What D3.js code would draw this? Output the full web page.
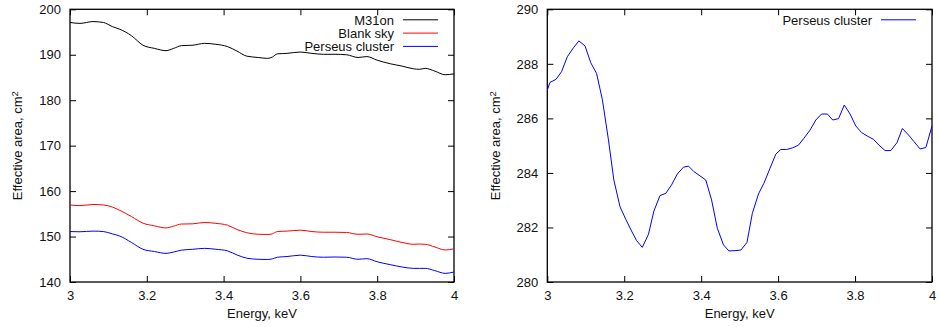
<!DOCTYPE html>
<html>
<head>
<meta charset="utf-8">
<script src="https://cdn.jsdelivr.net/npm/d3@7"></script>
<style>
  html, body { margin: 0; padding: 0; background: #fff; }
  svg { display: block; font-family: "Liberation Sans", Arial, sans-serif; }
  text { fill: #111; font-size: 13px; }
</style>
</head>
<body>
<svg id="chart" width="940" height="327"></svg>
<script>
// Left panel: effective area of three observations, 3-4 keV
const energyLeft = [3.0, 3.026, 3.06, 3.087, 3.11, 3.13, 3.16, 3.19, 3.22, 3.25, 3.27, 3.29, 3.32,
  3.35, 3.38, 3.41, 3.435, 3.46, 3.49, 3.515, 3.527, 3.54, 3.565, 3.6, 3.63, 3.66, 3.69, 3.72,
  3.75, 3.773, 3.8, 3.835, 3.865, 3.895, 3.91, 3.925, 3.95, 3.977, 4.0];
const m31on = [197.1, 196.9, 197.3, 197.1, 196.2, 195.6, 194.2, 192.1, 191.4, 190.9, 191.4, 192.0, 192.1,
  192.5, 192.3, 191.8, 190.8, 189.7, 189.4, 189.2, 189.5, 190.2, 190.3, 190.6, 190.3, 190.1, 190.1, 190.0,
  189.4, 189.6, 188.8, 188.0, 187.5, 186.9, 186.8, 187.0, 186.4, 185.6, 185.8];
const blankSky = [156.95, 156.8, 157.05, 156.95, 156.5, 155.75, 154.4, 152.95, 152.35, 151.9, 152.3, 152.75, 152.8,
  153.1, 152.9, 152.5, 151.55, 150.85, 150.5, 150.45, 150.6, 151.1, 151.2, 151.4, 151.1, 150.95, 150.95, 150.9,
  150.5, 150.56, 149.95, 149.3, 148.7, 148.3, 148.35, 148.3, 147.7, 147.05, 147.3];
const perseusLeft = [151.1, 151.05, 151.2, 151.1, 150.6, 150.1, 148.7, 147.2, 146.7, 146.3, 146.6, 147.0, 147.2,
  147.4, 147.2, 146.85, 145.95, 145.25, 145.0, 144.95, 145.1, 145.45, 145.6, 145.9, 145.6, 145.45, 145.5, 145.45,
  145.0, 145.13, 144.45, 143.8, 143.3, 143.0, 143.0, 143.0, 142.5, 141.9, 142.2];

// Right panel: Perseus cluster on its own scale
const energyRight = [3.0, 3.007, 3.0225, 3.037, 3.052, 3.068, 3.082, 3.098, 3.113, 3.128, 3.143, 3.159,
  3.173, 3.189, 3.204, 3.219, 3.232, 3.247, 3.263, 3.277, 3.293, 3.308, 3.323, 3.338, 3.354, 3.367,
  3.381, 3.397, 3.412, 3.427, 3.442, 3.458, 3.472, 3.488, 3.503, 3.519, 3.533, 3.549, 3.563, 3.579,
  3.594, 3.607, 3.622, 3.638, 3.653, 3.667, 3.683, 3.698, 3.713, 3.728, 3.742, 3.757, 3.772, 3.787,
  3.802, 3.817, 3.832, 3.848, 3.862, 3.878, 3.893, 3.909, 3.923, 3.939, 3.953, 3.969, 3.984, 4.0];
const perseusRight = [287.04, 287.32, 287.43, 287.71, 288.26, 288.59, 288.84, 288.66, 288.04, 287.65, 286.70, 285.21,
  283.74, 282.76, 282.30, 281.87, 281.52, 281.27, 281.75, 282.60, 283.17, 283.25, 283.56, 283.96, 284.21, 284.25,
  284.05, 283.89, 283.74, 283.01, 281.97, 281.36, 281.14, 281.15, 281.17, 281.45, 282.52, 283.23, 283.62, 284.17,
  284.69, 284.86, 284.86, 284.92, 285.02, 285.27, 285.57, 285.94, 286.16, 286.16, 285.94, 285.99, 286.49, 286.16,
  285.72, 285.48, 285.35, 285.23, 285.02, 284.82, 284.82, 285.11, 285.63, 285.39, 285.15, 284.88, 284.93, 285.72];

const xTicks = [3, 3.2, 3.4, 3.6, 3.8, 4];
const yTicksLeft = [140, 150, 160, 170, 180, 190, 200];
const yTicksRight = [280, 282, 284, 286, 288, 290];

const svg = d3.select("#chart");
const TICK = 6;

function panel(opts) {
  const { x0, x1, y0, y1, yDomain, yTicks, yFmt, series, labelX } = opts;
  const x = d3.scaleLinear().domain([3, 4]).range([x0, x1]);
  const y = d3.scaleLinear().domain(yDomain).range([y1, y0]);
  const g = svg.append("g");

  // inward ticks on all four sides
  const axB = d3.axisBottom(x).tickValues(xTicks).tickSizeInner(-TICK).tickSizeOuter(0).tickPadding(9)
    .tickFormat(d => d3.format("")(+d.toFixed(1)));
  const axT = d3.axisTop(x).tickValues(xTicks).tickSizeInner(-TICK).tickSizeOuter(0).tickFormat("");
  const axL = d3.axisLeft(y).tickValues(yTicks).tickSizeInner(-TICK).tickSizeOuter(0).tickPadding(9).tickFormat(yFmt);
  const axR = d3.axisRight(y).tickValues(yTicks).tickSizeInner(-TICK).tickSizeOuter(0).tickFormat("");

  g.append("g").attr("transform", `translate(0,${y1})`).call(axB);
  g.append("g").attr("transform", `translate(0,${y0})`).call(axT);
  g.append("g").attr("transform", `translate(${x0},0)`).call(axL);
  g.append("g").attr("transform", `translate(${x1},0)`).call(axR);
  g.selectAll(".domain").remove();
  g.selectAll(".tick line").attr("stroke", "#000").attr("stroke-width", 1);
  g.selectAll(".tick text").attr("font-size", 13).attr("fill", "#111")
    .attr("font-family", "'Liberation Sans', Arial, sans-serif");

  // frame
  g.append("rect").attr("x", x0).attr("y", y0).attr("width", x1 - x0).attr("height", y1 - y0)
    .attr("fill", "none").attr("stroke", "#000").attr("stroke-width", 1.3);

  // curves
  series.forEach(s => {
    const line = d3.line().x((d, i) => x(s.energy[i])).y(d => y(d)).curve(s.curve);
    g.append("path").datum(s.values).attr("d", line)
      .attr("fill", "none").attr("stroke", s.color).attr("stroke-width", 1);
  });

  // legend
  series.forEach((s, i) => {
    const ly = y0 + 11 + i * 13.3;
    g.append("text").attr("x", opts.legendX).attr("y", ly).attr("dy", "0.35em")
      .attr("text-anchor", "end").text(s.name);
    g.append("line").attr("x1", opts.legendX + 9).attr("x2", opts.legendX + 44)
      .attr("y1", ly - 0.5).attr("y2", ly - 0.5).attr("stroke", s.color).attr("stroke-width", 1);
  });

  // axis titles
  g.append("text").attr("x", (x0 + x1) / 2).attr("y", 318).attr("text-anchor", "middle").text("Energy, keV");
  const yl = g.append("text").attr("transform", `translate(${labelX},${(y0 + y1) / 2}) rotate(-90)`)
    .attr("text-anchor", "middle");
  yl.append("tspan").text("Effective area, cm");
  yl.append("tspan").attr("dy", "-0.45em").attr("font-size", 9.5).text("2");
}

panel({
  x0: 70, x1: 454, y0: 9.3, y1: 282,
  yDomain: [140, 200], yTicks: yTicksLeft, yFmt: d3.format("d"),
  labelX: 22, legendX: 394,
  series: [
    { name: "M31on", color: "#000000", energy: energyLeft, values: m31on, curve: d3.curveMonotoneX },
    { name: "Blank sky", color: "#ff0000", energy: energyLeft, values: blankSky, curve: d3.curveMonotoneX },
    { name: "Perseus cluster", color: "#0000ff", energy: energyLeft, values: perseusLeft, curve: d3.curveMonotoneX }
  ]
});

panel({
  x0: 547.3, x1: 932, y0: 9.3, y1: 282,
  yDomain: [280, 290], yTicks: yTicksRight, yFmt: d3.format("d"),
  labelX: 500, legendX: 872,
  series: [
    { name: "Perseus cluster", color: "#0000ff", energy: energyRight, values: perseusRight, curve: d3.curveLinear }
  ]
});
</script>
</body>
</html>
